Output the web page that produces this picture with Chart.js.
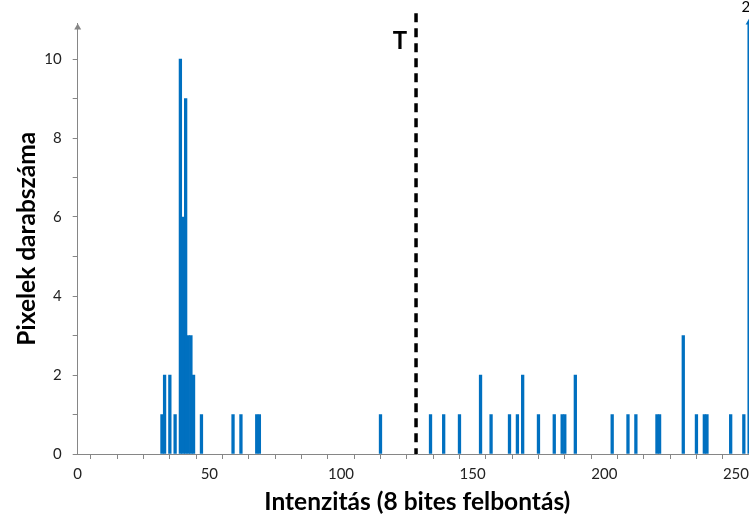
<!DOCTYPE html>
<html>
<head>
<meta charset="utf-8">
<script src="https://cdn.jsdelivr.net/npm/chart.js@4.4.1/dist/chart.umd.min.js"></script>
<style>
html,body{margin:0;padding:0;background:#fff;overflow:hidden;}
#wrap{position:relative;width:760px;height:517px;}
</style>
</head>
<body>
<div id="wrap"><canvas id="c"></canvas></div>
<script>
// Histogram data
const intensities = [32,33,35,37,39,40,41,42,43,44,47,59,62,68,69,115,134,139,145,153,157,164,167,169,175,181,184,185,189,203,209,212,220,221,230,235,238,239,248,253,255];
const counts      = [1, 2, 2, 1, 10,6, 9, 3, 3, 2, 1, 1, 1, 1, 1, 1,  1,  1,  1,  2,  1,  1,  1,  2,  1,  1,  1,  1,  2,  1,  1,  1,  1,  1,  3,  1,  1,  1,  1,  1,  26];
const threshold = 128.5;
const thresholdLabel = 'T';
const xTitle = 'Intenzitás (8 bites felbontás)';
const yTitle = 'Pixelek darabszáma';
const yMax = 10.9;
const xMax = 258;

const BLUE = '#0070C0';
const AXIS = '#868686';

const annot = {
  id: 'annot',
  afterDatasetsDraw(chart) {
    const {ctx, scales: {x, y}, chartArea} = chart;
    ctx.save();
    // threshold dashed line
    const px = x.getPixelForValue(threshold);
    ctx.strokeStyle = '#000';
    ctx.lineWidth = 3.5;
    ctx.setLineDash([9, 6]);
    ctx.beginPath();
    ctx.moveTo(px, y.getPixelForValue(11.16));
    ctx.lineTo(px, y.getPixelForValue(0));
    ctx.stroke();
    ctx.setLineDash([]);
    ctx.fillStyle = '#000';
    ctx.font = 'bold 24px Lato';
    ctx.textAlign = 'right';
    ctx.textBaseline = 'middle';
    ctx.fillText(thresholdLabel, px - 9, y.getPixelForValue(10.45));
    // y-axis arrow
    const ax = chartArea.left;
    ctx.fillStyle = AXIS;
    ctx.beginPath();
    ctx.moveTo(ax, chartArea.top);
    ctx.lineTo(ax - 3.5, chartArea.top + 6);
    ctx.lineTo(ax + 3.5, chartArea.top + 6);
    ctx.closePath();
    ctx.fill();
    // off-scale bars: arrow + value label
    intensities.forEach((v, i) => {
      if (counts[i] > yMax) {
        const bx = x.getPixelForValue(v);
        ctx.fillStyle = BLUE;
        ctx.beginPath();
        ctx.moveTo(bx, chartArea.top - 5);
        ctx.lineTo(bx - 3.5, chartArea.top + 1);
        ctx.lineTo(bx + 3.5, chartArea.top + 1);
        ctx.closePath();
        ctx.fill();
        ctx.fillStyle = '#000';
        ctx.font = '15px Lato';
        ctx.textAlign = 'center';
        ctx.textBaseline = 'middle';
        ctx.fillText(String(counts[i]), bx + 1, 7);
      }
    });
    ctx.restore();
  }
};

new Chart(document.getElementById('c'), {
  type: 'bar',
  data: {
    datasets: [{
      data: intensities.map((v, i) => ({x: v, y: counts[i]})),
      backgroundColor: BLUE,
      borderWidth: 0,
      barPercentage: 1,
      categoryPercentage: 1
    }]
  },
  options: {
    responsive: true,
    maintainAspectRatio: false,
    animation: false,
    layout: {padding: {top: 23.45, right: 3, left: 0, bottom: 0}},
    plugins: {legend: {display: false}, tooltip: {enabled: false}},
    scales: {
      x: {
        type: 'linear',
        min: 0, max: xMax,
        offset: false,
        afterFit(s) { s.height = 63; },
        border: {color: AXIS, width: 1},
        grid: {drawOnChartArea: false, color: AXIS, tickLength: 5},
        ticks: {
          stepSize: 10, includeBounds: false, autoSkip: false, maxRotation: 0,
          color: '#222', font: {family: 'Lato', size: 15}, padding: 6,
          callback: v => (v % 50 === 0 ? String(v) : '')
        },
        title: {display: true, text: xTitle, color: '#000',
                font: {family: 'Lato', size: 24.5, weight: 'bold'}, padding: {top: 0, bottom: 0}}
      },
      y: {
        min: 0, max: yMax,
        afterFit(s) { s.width = 77.7; },
        border: {color: AXIS, width: 1},
        grid: {drawOnChartArea: false, color: AXIS, tickLength: 5},
        ticks: {
          stepSize: 1, includeBounds: false, autoSkip: false,
          color: '#222', font: {family: 'Lato', size: 15}, padding: 11,
          callback: v => (v % 2 === 0 ? String(v) : '')
        },
        title: {display: true, text: yTitle, color: '#000',
                font: {family: 'Lato', size: 24.5, weight: 'bold'}, padding: {top: 12, bottom: 0}}
      }
    }
  },
  plugins: [annot]
});
</script>
</body>
</html>
